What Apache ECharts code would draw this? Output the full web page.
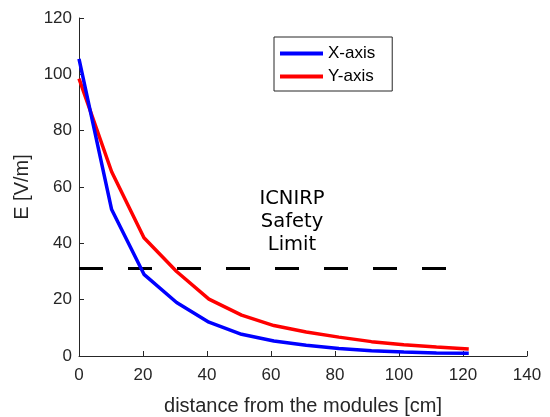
<!DOCTYPE html>
<html>
<head>
<meta charset="utf-8">
<script src="https://cdn.jsdelivr.net/npm/echarts@6/dist/echarts.min.js"></script>
<style>
  html, body { margin: 0; padding: 0; background: #fff; }
  #chart { width: 550px; height: 417px; }
</style>
</head>
<body>
<div id="chart"></div>
<script>
// distance from the modules [cm]
const distance = [0, 10.2, 20.3, 30.5, 40.6, 50.8, 60.9, 71, 81.2, 91.4, 101.5, 111.7, 121.8];
// field strength E [V/m]
const xAxisE = [105.5, 52, 29, 19, 12, 7.7, 5.3, 3.8, 2.7, 1.9, 1.4, 1.1, 1.0];
const yAxisE = [98.5, 65.4, 42, 30, 20.2, 14.5, 10.8, 8.5, 6.7, 5.1, 4.0, 3.2, 2.5];
// ICNIRP limit line
const limitX = [0, 115.5];
const limitE = 31.1;
const seriesNames = ["X-axis", "Y-axis"];
const xTicks = [0, 20, 40, 60, 80, 100, 120, 140];
const yTicks = [0, 20, 40, 60, 80, 100, 120];

const axisColor = "#262626";
const chart = echarts.init(document.getElementById("chart"));

const pairs = (xs, ys) => xs.map((x, i) => [x, ys[i]]);

chart.setOption({
  animation: false,
  grid: { left: 79, right: 23, top: 18, bottom: 61, outerBoundsMode: "none" },
  xAxis: {
    type: "value",
    min: xTicks[0],
    max: xTicks[xTicks.length - 1],
    interval: 20,
    name: "distance from the modules [cm]",
    nameLocation: "middle",
    nameGap: 40,
    nameTextStyle: { fontFamily: "Liberation Sans", fontSize: 20, color: axisColor },
    axisLine: { show: true, lineStyle: { color: axisColor, width: 1 } },
    axisTick: { show: true, inside: true, length: 5, lineStyle: { color: axisColor } },
    axisLabel: { margin: 11, fontFamily: "Liberation Sans", fontSize: 17, color: axisColor },
    splitLine: { show: false }
  },
  yAxis: {
    type: "value",
    min: yTicks[0],
    max: yTicks[yTicks.length - 1],
    interval: 20,
    name: "E [V/m]",
    nameLocation: "middle",
    nameGap: 44,
    nameTextStyle: { fontFamily: "Liberation Sans", fontSize: 20, color: axisColor },
    axisLine: { show: true, lineStyle: { color: axisColor, width: 1 } },
    axisTick: { show: true, inside: true, length: 5, lineStyle: { color: axisColor } },
    axisLabel: { margin: 7, fontFamily: "Liberation Sans", fontSize: 17, color: axisColor },
    splitLine: { show: false }
  },
  legend: {
    orient: "vertical",
    left: 274,
    top: 37,
    data: seriesNames,
    icon: "rect",
    itemWidth: 43,
    itemHeight: 4,
    itemGap: 6,
    padding: [8, 17, 6, 6],
    borderColor: "#262626",
    borderWidth: 1,
    backgroundColor: "#fff",
    textStyle: { fontFamily: "Liberation Sans", fontSize: 17, color: "#000", lineHeight: 17 }
  },
  graphic: [{
    type: "text",
    x: 292,
    y: 187,
    style: {
      text: "ICNIRP\nSafety\nLimit",
      align: "center",
      verticalAlign: "top",
      font: "19.5px 'DejaVu Sans'",
      lineHeight: 23.2,
      fill: "#000"
    }
  }],
  series: [
    {
      name: seriesNames[0],
      type: "line",
      data: pairs(distance, xAxisE),
      showSymbol: false,
      symbol: "none",
      lineStyle: { color: "#0000ff", width: 3.5 },
      itemStyle: { color: "#0000ff" },
      z: 3
    },
    {
      name: seriesNames[1],
      type: "line",
      data: pairs(distance, yAxisE),
      showSymbol: false,
      symbol: "none",
      lineStyle: { color: "#ff0000", width: 3.5 },
      itemStyle: { color: "#ff0000" },
      z: 2
    },
    {
      name: "limit",
      type: "line",
      data: limitX.map(x => [x, limitE]),
      showSymbol: false,
      symbol: "none",
      lineStyle: { color: "#000", width: 3, type: [24, 25] },
      z: 1
    }
  ]
});
</script>
</body>
</html>
